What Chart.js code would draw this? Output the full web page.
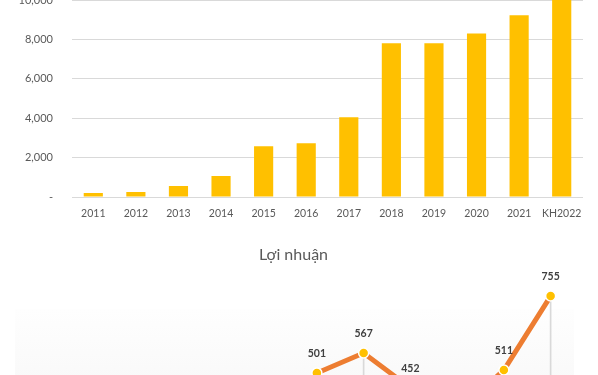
<!DOCTYPE html>
<html>
<head>
<meta charset="utf-8">
<script src="https://cdn.jsdelivr.net/npm/chart.js@4"></script>
<style>
  html, body { margin: 0; padding: 0; background: #ffffff; overflow: hidden; width: 598px; height: 375px; }
  #wrap1 { position: absolute; left: 0; top: -65px; width: 598px; height: 295px; }
  #wrap2 { position: absolute; left: 0; top: 230px; width: 598px; height: 330px; }
  #bg2 { position: absolute; left: 15px; top: 309px; width: 559px; height: 100px;
         background: linear-gradient(to bottom, #fefefe 0%, #fcfcfc 30%, #f7f7f7 100%); }
</style>
</head>
<body>
<div id="bg2"></div>
<div id="wrap1"><canvas id="c1" width="598" height="295"></canvas></div>
<div id="wrap2"><canvas id="c2" width="598" height="330"></canvas></div>
<script>
// ---- data ----
const categories = ["2011","2012","2013","2014","2015","2016","2017","2018","2019","2020","2021","KH2022"];
const revenue = [200, 250, 560, 1060, 2580, 2730, 4050, 7800, 7800, 8300, 9220, 10000];
const profit = [40, 55, 95, 190, 300, 330, 501, 567, 452, 370, 511, 755];
const profitTitle = "Lợi nhuận";

const FONT = "Lato, 'Open Sans', sans-serif";
const GRAY = "#595959";

// ---- chart 1: revenue bars ----
new Chart(document.getElementById("c1"), {
  type: "bar",
  data: {
    labels: categories,
    datasets: [{
      data: revenue,
      backgroundColor: "#FFC000",
      borderWidth: 0,
      barPercentage: 0.45,
      categoryPercentage: 1.0
    }]
  },
  options: {
    responsive: false,
    animation: false,
    layout: { padding: { left: 0, right: 15, top: 14.5, bottom: 0 } },
    plugins: { legend: { display: false }, tooltip: { enabled: false }, title: { display: false } },
    scales: {
      x: {
        grid: { display: false, drawTicks: false },
        border: { display: false },
        ticks: { color: GRAY, font: { family: FONT, size: 10.5 }, padding: 10, maxRotation: 0, autoSkip: false },
        afterFit(scale) { scale.height = 33; }
      },
      y: {
        min: 0, max: 12000,
        grid: { color: "#d9d9d9", lineWidth: 1, drawTicks: false },
        border: { display: false },
        ticks: {
          stepSize: 2000, color: GRAY, padding: 19,
          font: { family: FONT, size: 11 },
          callback: v => v === 0 ? "-" : v.toLocaleString("en-US")
        },
        afterFit(scale) { scale.width = 72; }
      }
    }
  }
});

// ---- chart 2: profit line ----
const labelPlugin = {
  id: "pointLabels",
  afterDatasetsDraw(chart) {
    const ctx = chart.ctx;
    const meta = chart.getDatasetMeta(1);
    ctx.save();
    ctx.font = "bold 10.5px " + FONT;
    ctx.fillStyle = "#404040";
    ctx.textAlign = "center";
    ctx.textBaseline = "middle";
    meta.data.forEach((pt, i) => {
      ctx.fillText(String(profit[i]), pt.x, pt.y - 19);
    });
    ctx.restore();
  }
};

new Chart(document.getElementById("c2"), {
  data: {
    labels: categories,
    datasets: [
      {
        type: "bar",
        data: profit,
        backgroundColor: "#d9d9d9",
        barThickness: 1,
        order: 2
      },
      {
        type: "line",
        data: profit,
        borderColor: "#ED7D31",
        borderWidth: 5,
        tension: 0,
        pointRadius: 5,
        pointBorderWidth: 1.5,
        pointBackgroundColor: "#FFC000",
        pointBorderColor: "#ffffff",
        order: 1
      }
    ]
  },
  options: {
    responsive: false,
    animation: false,
    layout: { padding: { left: 13, right: 24, top: 0, bottom: 35 } },
    plugins: {
      legend: { display: false },
      tooltip: { enabled: false },
      title: {
        display: true,
        text: profitTitle,
        color: GRAY,
        font: { family: FONT, size: 16, weight: "normal", lineHeight: 1.2 },
        padding: { top: 15.4, bottom: 17.8 }
      }
    },
    scales: {
      x: { display: false },
      y: { display: false, min: 0, max: 800 }
    }
  },
  plugins: [labelPlugin]
});
</script>
</body>
</html>
